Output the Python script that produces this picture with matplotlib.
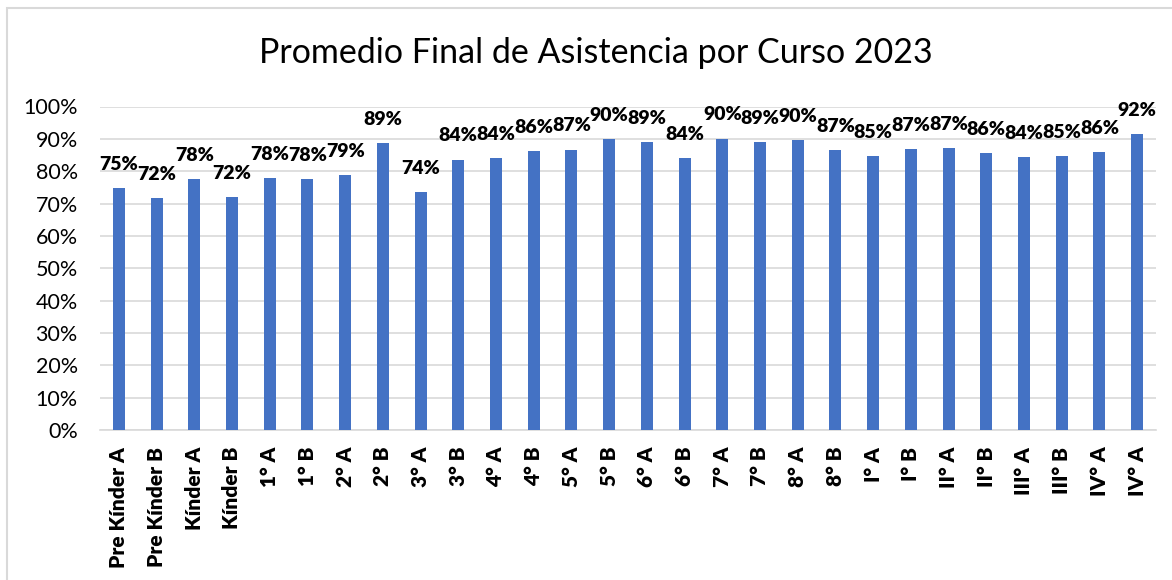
import matplotlib
matplotlib.use("Agg")
import matplotlib.pyplot as plt
from matplotlib.patches import Rectangle
from matplotlib.ticker import FuncFormatter, MultipleLocator

cursos = ["Pre Kínder A", "Pre Kínder B", "Kínder A", "Kínder B", "1° A", "1° B",
          "2° A", "2° B", "3° A", "3° B", "4° A", "4° B", "5° A", "5° B", "6° A",
          "6° B", "7° A", "7° B", "8° A", "8° B", "I° A", "I° B", "II° A", "II° B",
          "III° A", "III° B", "IV° A", "IV° A"]
asistencia = [0.749, 0.717, 0.776, 0.720, 0.778, 0.776, 0.788, 0.887, 0.736, 0.836,
              0.841, 0.862, 0.867, 0.899, 0.889, 0.840, 0.901, 0.889, 0.896, 0.866,
              0.847, 0.869, 0.872, 0.856, 0.844, 0.846, 0.859, 0.915]
titulo = "Promedio Final de Asistencia por Curso 2023"

plt.rcParams['font.family'] = ['Lato', 'DejaVu Sans']

W, H = 1172, 580
fig = plt.figure(figsize=(W / 100, H / 100), dpi=100)
fig.patch.set_facecolor("white")

# chart border (left and top visible)
fig.patches.append(Rectangle((7 / W, -0.1), 1.2, (H - 8) / H + 0.1, transform=fig.transFigure,
                             fill=False, edgecolor="#d9d9d9", linewidth=1.5))

left, right = 100 / W, 1156 / W
bottom, top = (H - 430) / H, (H - 106.5) / H
ax = fig.add_axes([left, bottom, right - left, top - bottom])

x = list(range(len(cursos)))
ax.bar(x, asistencia, width=0.32, color="#4472c4", zorder=3)
ax.set_xlim(-0.5, len(cursos) - 0.5)
ax.set_ylim(0, 1.0)
ax.yaxis.set_major_locator(MultipleLocator(0.1))
ax.yaxis.set_major_formatter(FuncFormatter(lambda v, p: f"{v*100:.0f}%"))
ax.grid(axis="y", color="#d9d9d9", linewidth=1.2, zorder=0)
for s in ["top", "right", "left"]:
    ax.spines[s].set_visible(False)
ax.spines["bottom"].set_color("#d9d9d9")
ax.spines["bottom"].set_linewidth(1.2)
ax.tick_params(axis="both", length=0)
ax.tick_params(axis="y", labelsize=15.5, colors="#000000", pad=16)
ax.set_xticks(x)
ax.set_xticklabels(cursos, rotation=90, fontsize=15, fontweight="heavy")
ax.tick_params(axis="x", pad=12)

for xi, v in zip(x, asistencia):
    ax.annotate(f"{v*100:.0f}%", (xi, v), xytext=(0, 17), textcoords="offset points",
                ha="center", va="center", fontsize=14, fontweight="heavy", zorder=4)

fig.text(596 / W, (H - 53) / H, titulo, ha="center", va="center", fontsize=24.5, color="#000000")

fig.savefig("out.png", dpi=100, facecolor="white")
